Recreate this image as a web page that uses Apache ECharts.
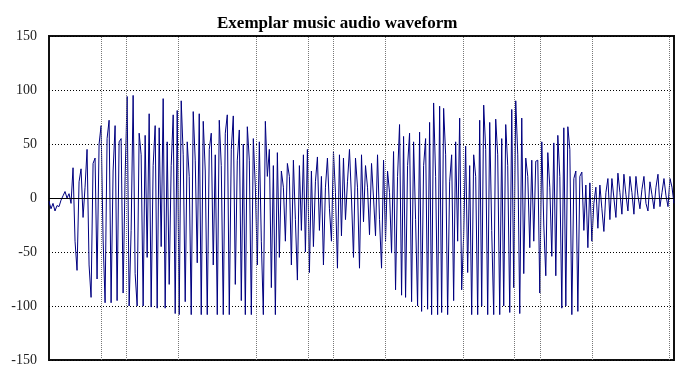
<!DOCTYPE html>
<html>
<head>
<meta charset="utf-8">
<script src="https://cdn.jsdelivr.net/npm/echarts@6/dist/echarts.min.js"></script>
<style>
  html, body { margin: 0; padding: 0; background: #fff; }
  #chart { width: 676px; height: 371px; }
</style>
</head>
<body>
<div id="chart"></div>
<script>
// Waveform amplitude, one value per sample index
const samples = [
  -3, -10, -5, -12, -7, -8, -2, 2, 6, 0,
  4, -5, 28, -40, -67, 15, 27, -18, 10, 45,
  -62, -92, 32, 37, -75, 50, 67, -38, -97, 55,
  72, -97, 25, 67, -95, 52, 55, -88, 20, 94,
  -100, -30, 95, -70, -100, 60, 40, -100, 58, -55,
  78, -101, 30, 67, -102, 65, -45, 92, -102, 52,
  -80, 30, 77, -107, 81, -108, 90, 40, -96, 52,
  20, -108, 80, 35, -60, 78, -108, 71, 25, -108,
  45, 60, -62, 40, -108, 72, 30, -108, 60, 77,
  -108, 45, 76, -80, 35, 63, -95, 50, -108, 66,
  35, -108, 55, 10, -62, 52, -40, -108, 71, 20,
  45, -83, 30, -108, 42, -55, 25, 10, -40, 32,
  20, -62, 35, -20, -76, 30, -30, 40, -50, 45,
  -69, 25, -45, 15, 38, -30, 20, -62, 10, 37,
  -10, -40, 43, 5, -65, 40, -35, 37, -20, 15,
  45, 0, -55, 37, 10, -65, 40, -22, 30, 10,
  -34, 32, 0, -35, 40, -20, -65, 35, -40, 25,
  5, -51, 43, -85, 20, 68, -90, 57, -92, 30,
  60, -96, 52, -20, -100, 61, -105, 30, 55, -103,
  70, -108, 88, 20, -108, 85, -106, 83, 40, -108,
  15, 40, -95, 52, -40, 74, -85, -35, 48, -69,
  30, -108, 40, 20, -108, 72, -100, 86, 45, -108,
  70, -30, -108, 73, 40, -108, 55, -100, 68, 30,
  -106, 82, -83, 90, 40, -107, 74, -70, 37, 20,
  -46, 35, -40, 34, 35, -88, 52, -25, -72, 42,
  10, -54, 51, -72, 58, 20, -102, 65, -100, 66,
  45, -108, 18, 25, -105, 20, 24, -30, 12, -46,
  14, -40, -5, 10, -28, 12, -10, -31, 5, 18,
  -20, 18, 0, -18, 23, 5, -15, 22, 3, -12,
  20, 5, -15, 20, 2, -10, 8, 20, -5, -12,
  15, 3, -10, 10, 22, -8, 5, 18, 2, -8,
  18, 10, -5
];

// Sample positions of the vertical beat markers
const beatMarks = [26.1, 38.6, 64.75, 103.4, 129.4, 141.9, 167.9, 206.6, 232.4, 245.25, 271.1, 309.6];

// Amplitude axis
const ampMin = -150;
const ampMax = 150;
const ampStep = 50;

const chart = echarts.init(document.getElementById('chart'), null, { renderer: 'canvas' });

chart.setOption({
  animation: false,
  backgroundColor: '#fff',
  title: {
    text: 'Exemplar music audio waveform',
    left: 212,
    top: 10,
    textStyle: {
      fontFamily: 'Liberation Serif',
      fontWeight: 'bold',
      fontSize: 17,
      color: '#000'
    }
  },
  grid: {
    left: 49,
    right: 2,
    top: 36,
    bottom: 11,
    show: true,
    borderColor: '#111',
    borderWidth: 2,
    backgroundColor: 'transparent'
  },
  xAxis: {
    type: 'value',
    min: 0,
    max: samples.length - 1,
    axisLine: { show: false },
    axisTick: { show: false },
    axisLabel: { show: false },
    splitLine: { show: false }
  },
  yAxis: {
    type: 'value',
    min: ampMin,
    max: ampMax,
    interval: ampStep,
    axisLine: { show: false },
    axisTick: { show: false },
    axisLabel: {
      fontFamily: 'Liberation Serif',
      fontSize: 14,
      color: '#222',
      margin: 12
    },
    splitLine: {
      show: true,
      lineStyle: { color: '#000', width: 1, type: [1, 2] }
    }
  },
  series: [
    {
      name: 'beats',
      type: 'line',
      data: [],
      z: 1,
      silent: true,
      markLine: {
        silent: true,
        symbol: ['none', 'none'],
        label: { show: false },
        lineStyle: { color: '#777', width: 1, type: [1, 1] },
        data: beatMarks.map(v => ({ xAxis: v }))
      }
    },
    {
      name: 'waveform',
      type: 'line',
      data: samples.map((v, i) => [i, v]),
      showSymbol: false,
      symbol: 'none',
      z: 2,
      lineStyle: { color: '#000080', width: 1 },
      markLine: {
        silent: true,
        symbol: ['none', 'none'],
        label: { show: false },
        lineStyle: { color: '#000', width: 1, type: 'solid' },
        data: [{ yAxis: 0 }]
      }
    }
  ]
});
</script>
</body>
</html>
